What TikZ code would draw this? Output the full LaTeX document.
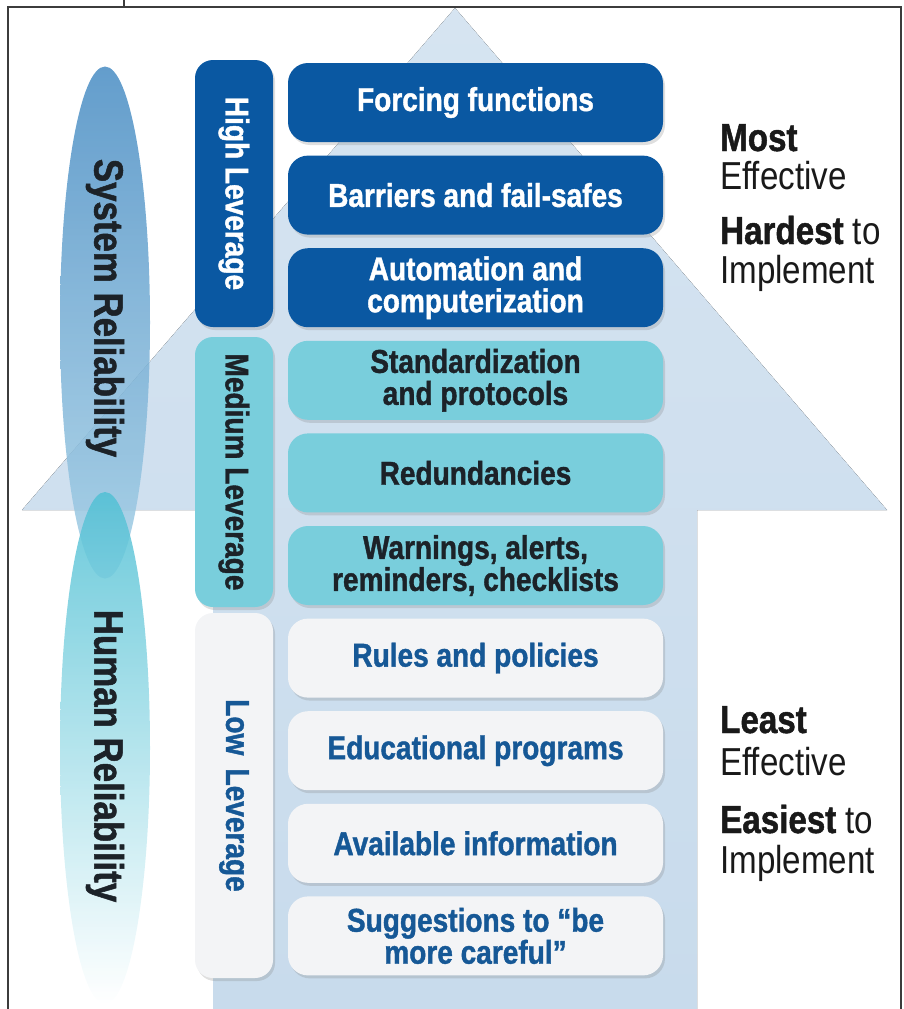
\documentclass[tikz,border=0pt]{standalone}
\usepackage{fontspec}
\setmainfont[FakeStretch=0.85, BoldFeatures={FakeBold=1.2}]{Liberation Sans}
\usepackage{tikz}
\usetikzlibrary{positioning,shapes.geometric,shadows}
\definecolor{levblue}{RGB}{10,88,162}
\definecolor{levteal}{RGB}{121,206,220}
\definecolor{levgray}{RGB}{243,244,246}
\definecolor{lowtext}{RGB}{22,88,150}
\definecolor{darktext}{RGB}{28,34,40}
\definecolor{arrowtop}{RGB}{214,228,241}
\definecolor{arrowbot}{RGB}{200,219,236}
\definecolor{systop}{RGB}{72,140,195}
\definecolor{sysbot}{RGB}{165,208,230}
\definecolor{humtop}{RGB}{80,192,212}
\definecolor{framegray}{RGB}{60,60,60}
\newcommand{\boxfont}{\fontsize{33}{32}\selectfont\bfseries}
\tikzset{
  itembox/.style  = {rounded corners=20pt, align=center, font=\boxfont, minimum width=375pt, minimum height=79pt, inner sep=2pt,
                     drop shadow={shadow xshift=2pt, shadow yshift=-3pt, opacity=0.25}},
  hibox/.style    = {itembox, fill=levblue, text=white},
  medbox/.style   = {itembox, fill=levteal, text=darktext},
  lowbox/.style   = {itembox, fill=levgray, text=lowtext},
  levbox/.style   = {rounded corners=18pt, font=\boxfont, rotate=-90, minimum height=78pt, inner sep=0pt,
                     drop shadow={shadow xshift=2pt, shadow yshift=-3pt, opacity=0.25}},
  relshape/.style = {ellipse, minimum width=90pt, minimum height=512pt, inner sep=0pt, fill opacity=0.85},
  reltext/.style  = {rotate=-90, font=\fontsize{41}{41}\selectfont\bfseries, text=darktext},
  sidetext/.style = {anchor=base west, inner sep=0pt, font=\fontsize{39}{40}\selectfont, text=black!90},
}

\begin{document}
\begin{tikzpicture}[x=1pt, y=-1pt, node distance=13.2pt]
  \useasboundingbox (0,0) rectangle (903,1009);
  \fill[top color=arrowtop, bottom color=arrowbot] (213,1009) -- (213,510) -- (22,510) -- (455,8) -- (887,510) -- (697,510) -- (697,1009) -- cycle;

  \node[relshape, top color=systop, bottom color=sysbot] (sysell) at (105,322.5) {};
  \node[relshape, top color=humtop, bottom color=white] (humell) at (105,748) {};
  \node[reltext] (systxt) at (105,308) {System Reliability};
  \node[reltext] (humtxt) at (105,756) {Human Reliability};

  \node[levbox, fill=levblue, text=white, minimum width=267pt] (high) at (234,193.5) {High Leverage};
  \node[levbox, fill=levteal, text=darktext, minimum width=270pt] (medium) at (234,472) {Medium Leverage};
  \node[levbox, fill=levgray, text=lowtext, minimum width=365pt] (low) at (234,795.5) {Low\hspace{0.4em}Leverage};

  \node[hibox] (forcing) at (475.5,102.5) {Forcing functions};
  \node[hibox, below=of forcing] (barriers) {Barriers and fail-safes};
  \node[hibox, below=of barriers] (autom) {Automation and\\computerization};
  \node[medbox, below=of autom] (standard) {Standardization\\and protocols};
  \node[medbox, below=of standard] (redund) {Redundancies};
  \node[medbox, below=of redund] (warnings) {Warnings, alerts,\\reminders, checklists};
  \node[lowbox, below=of warnings] (rules) {Rules and policies};
  \node[lowbox, below=of rules] (educ) {Educational programs};
  \node[lowbox, below=of educ] (avail) {Available information};
  \node[lowbox, below=of avail] (suggest) {Suggestions to “be\\more careful”};

  \node[sidetext] (most) at (720,151) {\textbf{Most}};
  \node[sidetext] (mosteff) at (720,189) {Effective};
  \node[sidetext] (hardest) at (720,244) {\textbf{Hardest} to};
  \node[sidetext] (hardimpl) at (720,283) {Implement};
  \node[sidetext] (least) at (720,733) {\textbf{Least}};
  \node[sidetext] (leasteff) at (720,775) {Effective};
  \node[sidetext] (easiest) at (720,833) {\textbf{Easiest} to};
  \node[sidetext] (easyimpl) at (720,873) {Implement};

  \draw[framegray, line width=1.5pt] (8,1009) -- (8,7) -- (901,7) -- (901,1009);
  \draw[framegray, line width=1.5pt] (124,0) -- (124,7);
\end{tikzpicture}
\end{document}
